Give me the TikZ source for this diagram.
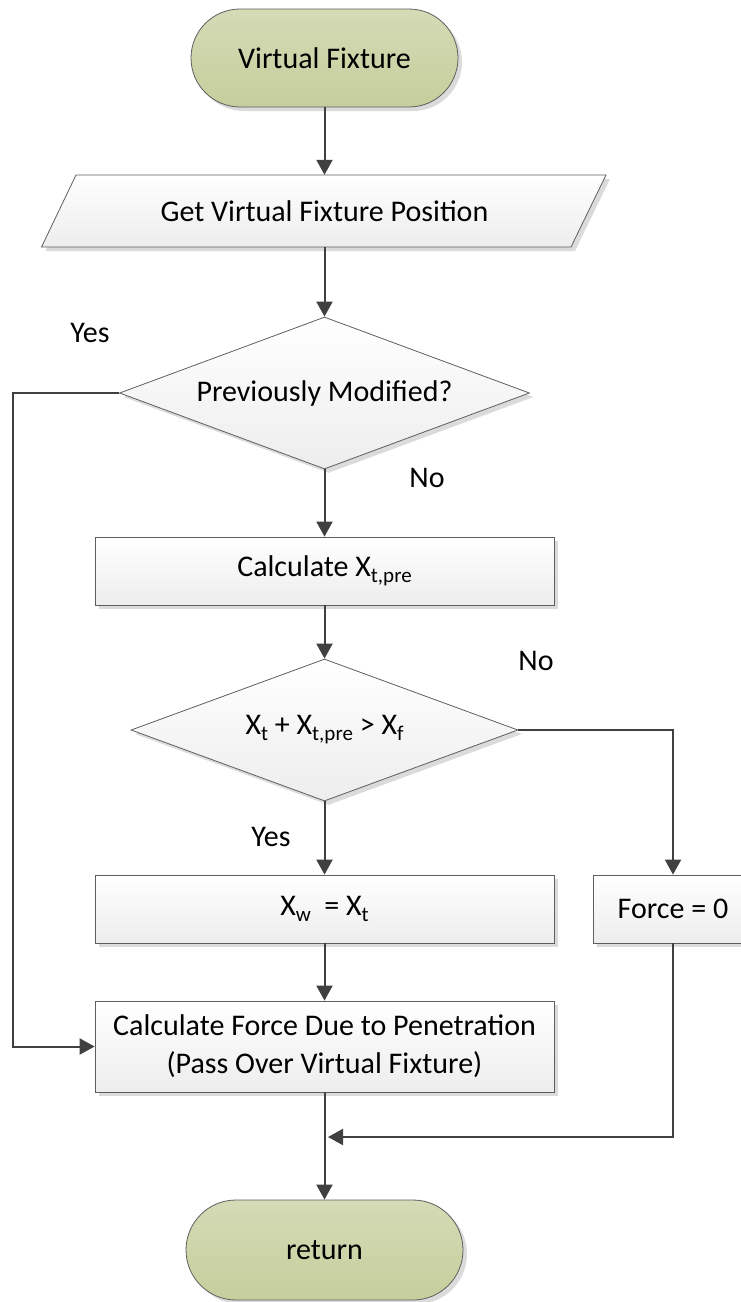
\documentclass[tikz,border=0pt]{standalone}
\usepackage{fontspec}
\setmainfont{Carlito}
\usetikzlibrary{arrows.meta,shapes.geometric,shadows}
\definecolor{lineC}{HTML}{404040}
\definecolor{bordC}{HTML}{5E5E5E}
\definecolor{termTop}{HTML}{D4DBB6}
\definecolor{termBot}{HTML}{C6CE9C}
\definecolor{boxBot}{HTML}{EDEDED}
\newcommand\lsub[1]{\raisebox{-6pt}{\fontsize{21}{24}\selectfont #1}}
\tikzset{
  txt/.style={font=\fontsize{30}{36}\selectfont, text=black},
  shad/.style={drop shadow={shadow xshift=4pt, shadow yshift=-4pt, fill=black!14, opacity=1}},
  term/.style={txt, draw=bordC, line width=0.8pt, top color=termTop, bottom color=termBot, shad, inner sep=0pt},
  procbox/.style={txt, draw=bordC, line width=0.8pt, top color=white, bottom color=boxBot, shad, inner sep=0pt},
  decbox/.style={procbox, diamond, aspect=2.7},
  flow/.style={draw=lineC, line width=2pt, -{Triangle[width=16pt,length=15pt]}},
  lbl/.style={txt}
}
\begin{document}
\begin{tikzpicture}[x=1pt,y=-1pt]
\useasboundingbox (0,0) rectangle (740,1302);
% nodes
\node[term, rounded corners=49pt, minimum width=267pt, minimum height=98pt] (start) at (324.5,58) {Virtual Fixture};
\path[draw=bordC, line width=0.8pt, top color=white, bottom color=boxBot, shad]
  (41.5,247) -- (76,175) -- (606,175) -- (571,247) -- cycle;
\node[txt, inner sep=0pt, minimum height=72pt] (getpos) at (324.5,211) {Get Virtual Fixture Position};
\node[decbox, minimum width=410pt, minimum height=152pt] (dec1) at (324.5,393) {Previously Modified?};
\node[procbox, minimum width=459pt, minimum height=68pt] (calc) at (324.5,571) {Calculate X\lsub{t,pre}};
\node[decbox, minimum width=387pt, minimum height=142pt] (dec2) at (324.5,730) {X\lsub{t} + X\lsub{t,pre} > X\lsub{f}};
\node[procbox, minimum width=459pt, minimum height=68pt] (xw) at (324.5,909) {X\lsub{w}~~= X\lsub{t}};
\node[procbox, minimum width=160pt, minimum height=68pt] (force) at (673,909) {Force = 0};
\node[procbox, minimum width=459pt, minimum height=91pt, align=center] (calcforce) at (324.5,1046.5) {Calculate Force Due to Penetration\\[2pt](Pass Over Virtual Fixture)};
\node[term, rounded corners=50pt, minimum width=277pt, minimum height=100pt] (end) at (324.5,1250) {return};
% labels
\node[lbl] (yes1) at (90,333) {Yes};
\node[lbl] (no1) at (427,478) {No};
\node[lbl] (no2) at (536,661) {No};
\node[lbl] (yes2) at (271,837) {Yes};
% coordinates
\coordinate (lft) at (13,393);
\coordinate (merge) at (328,1137);
% connectors
\draw[flow] (start.south) -- (getpos.north);
\draw[flow] (getpos.south) -- (dec1.north);
\draw[flow] (dec1.south) -- (calc.north);
\draw[flow] (calc.south) -- (dec2.north);
\draw[flow] (dec2.south) -- (xw.north);
\draw[flow] (dec2.east) -| (force.north);
\draw[flow] (xw.south) -- (calcforce.north);
\draw[flow] (dec1.west) -- (lft) |- (calcforce.west);
\draw[flow] (force.south) |- (merge);
\draw[flow] (calcforce.south) -- (end.north);
\end{tikzpicture}
\end{document}
